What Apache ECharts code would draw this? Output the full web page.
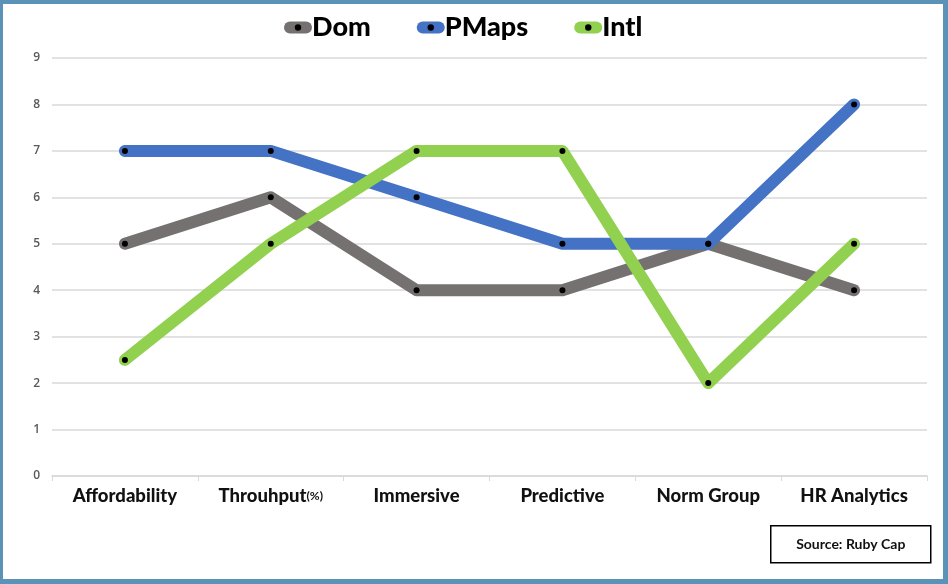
<!DOCTYPE html>
<html><head><meta charset="utf-8">
<script src="https://cdn.jsdelivr.net/npm/echarts@6/dist/echarts.min.js"></script>
<style>
html,body{margin:0;padding:0;background:#fff;}
#frame{position:absolute;left:0;top:0;width:948px;height:584px;box-sizing:border-box;border-style:solid;border-color:#5b93b8;border-width:4px 5px 5px 3px;}
#c{width:948px;height:584px;position:absolute;left:0;top:0;}
</style></head>
<body>
<div id="c"></div>
<div id="frame"></div>
<script>
const categories = ['Affordability','Throuhput(%)','Immersive','Predictive','Norm Group','HR Analytics'];
const dom = [5,6,4,4,5,4];
const pmaps = [7,7,6,5,5,8];
const intl = [2.5,5,7,7,2,5];
const yTicks = [0,1,2,3,4,5,6,7,8,9];
const sourceText = 'Source: Ruby Cap';

const chart = echarts.init(document.getElementById('c'));
function mk(name, data, color){
  return {
    name, type:'line', data,
    lineStyle:{color, width:12, cap:'round', join:'round'},
    itemStyle:{color:'#000', borderWidth:0},
    symbol:'circle', symbolSize:6, showSymbol:true,
    emphasis:{disabled:true}
  };
}
chart.setOption({
  animation:false,
  legend:{
    top:9, left:279, itemGap:46, itemWidth:16, itemHeight:8,
    lineStyle:{width:12, cap:'round'},
    textStyle:{fontFamily:'Lato', fontWeight:900, fontSize:27, color:'#000', padding:[0,0,0,1]},
    data:['Dom','PMaps','Intl']
  },
  grid:{left:52, right:21, top:58, bottom:108, containLabel:false},
  xAxis:{
    type:'category', data:categories, boundaryGap:true,
    axisLine:{lineStyle:{color:'#d9d9d9', width:1.5}},
    axisTick:{show:true, inside:false, length:5, lineStyle:{color:'#d9d9d9'}},
    axisLabel:{interval:0, fontFamily:'Lato', fontWeight:900, fontSize:18.5, color:'#111', margin:11,
      formatter:function(v){ return v.replace('(%)','{s|(%)}'); },
      rich:{s:{fontFamily:'Lato', fontWeight:'bold', fontSize:12, color:'#111'}}}
  },
  yAxis:{
    type:'value', min:yTicks[0], max:yTicks[yTicks.length-1], interval:1,
    axisLine:{show:false}, axisTick:{show:false},
    splitLine:{lineStyle:{color:'#d9d9d9', width:1.5}},
    axisLabel:{fontFamily:'Open Sans', fontWeight:600, fontSize:12, color:'#595959', margin:12}
  },
  graphic:[{
    type:'group', left:770, top:525,
    children:[
      {type:'rect', shape:{x:0,y:0,width:160,height:37}, style:{fill:'#fff', stroke:'#000', lineWidth:1.5}},
      {type:'text', x:80, y:18.5, style:{text:sourceText, fontFamily:'Lato', fontWeight:'bold', fontSize:14, fill:'#111', align:'center', verticalAlign:'middle'}}
    ]
  }],
  series:[
    mk('Dom', dom, '#767171'),
    mk('PMaps', pmaps, '#4472c4'),
    mk('Intl', intl, '#92d050')
  ]
});
</script>
</body></html>
